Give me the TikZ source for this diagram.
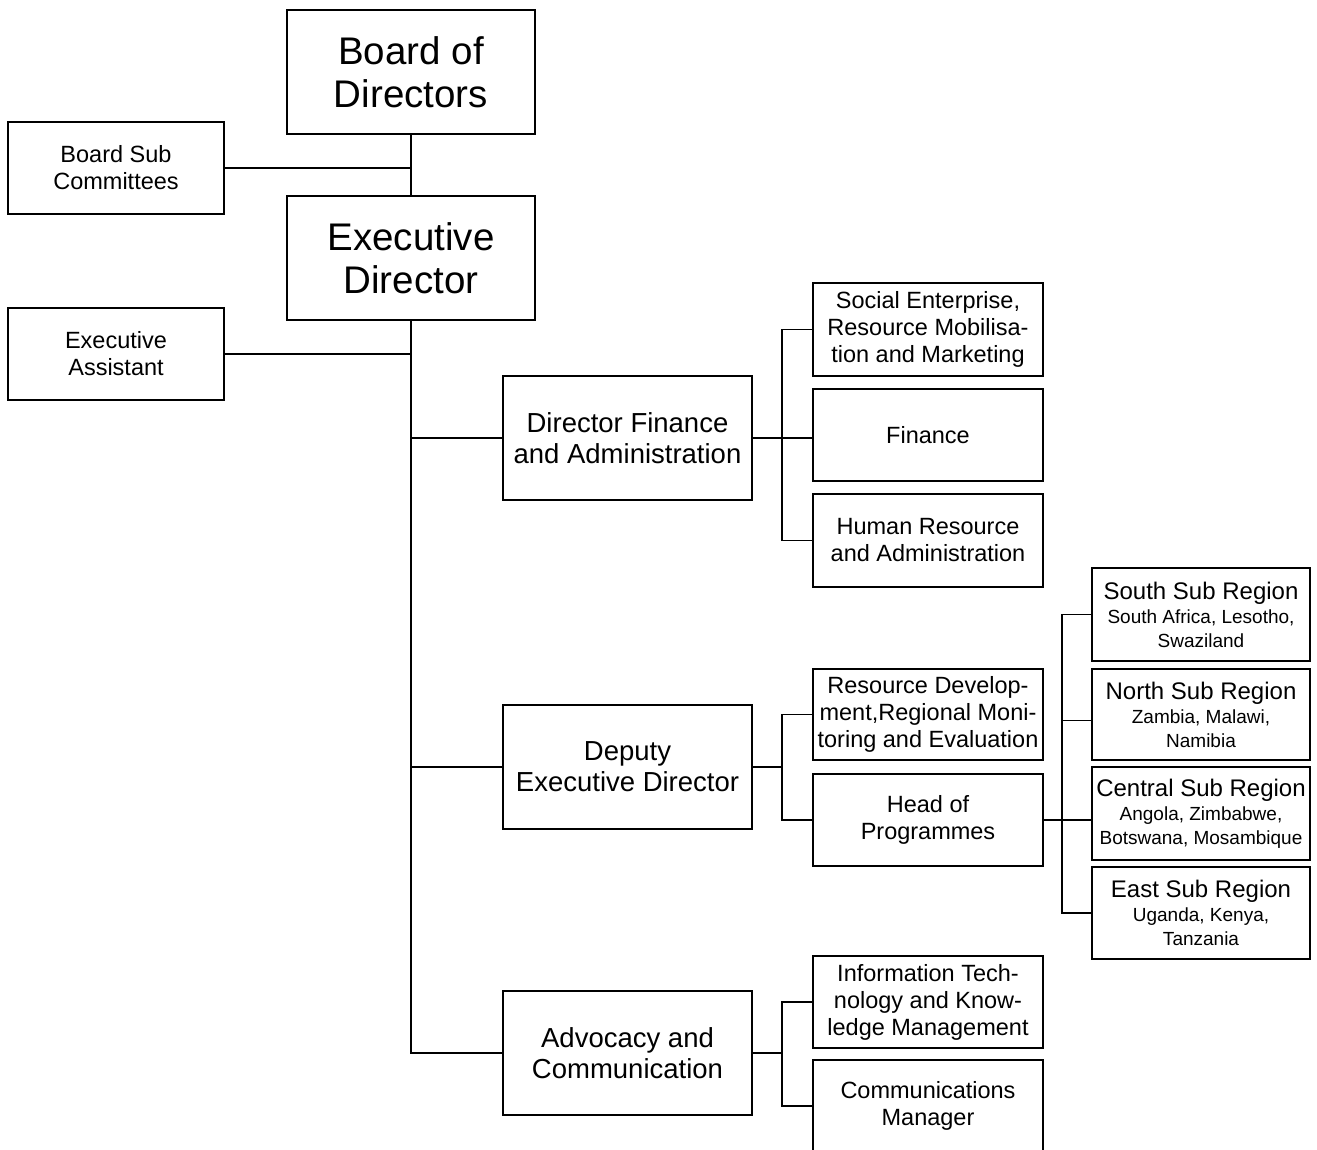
\documentclass[tikz,border=0pt]{standalone}
\usepackage{fontspec}
\setmainfont{Liberation Sans}
\newcommand\subf{\fontsize{19}{21}\selectfont}
\begin{document}
\begin{tikzpicture}[x=1pt,y=-1pt,line width=1.4pt,
  box/.style={draw,inner sep=0pt,align=center,line width=1.4pt},
  topbox/.style={box,minimum width=248pt,minimum height=124pt,font=\fontsize{38.5}{43}\selectfont},
  sidebox/.style={box,minimum width=216pt,minimum height=92pt,font=\fontsize{23.5}{27}\selectfont},
  midbox/.style={box,minimum width=249pt,minimum height=124pt,font=\fontsize{27.5}{31}\selectfont},
  leafbox/.style={box,minimum width=230pt,minimum height=92pt,font=\fontsize{23.5}{27}\selectfont},
  regbox/.style={box,minimum width=218pt,minimum height=92pt,font=\fontsize{24}{24}\selectfont}]
\useasboundingbox (0,0) rectangle (1317,1150);
\fill[white] (0,0) rectangle (1317,1150);
\clip (0,0) rectangle (1317,1150);

\node[topbox] (bod) at (411,72) {Board of\\Directors};
\node[sidebox] (bsc) at (116,168) {Board Sub\\Committees};
\node[topbox] (ed) at (411,258) {Executive\\Director};
\node[sidebox] (ea) at (116,354) {Executive\\Assistant};

\node[midbox] (dfa) at (627.5,438) {Director Finance\\and Administration};
\node[leafbox,minimum height=93pt] (se) at (928,329.5) {Social Enterprise,\\Resource Mobilisa-\\tion and Marketing};
\node[leafbox] (fin) at (928,435) {Finance};
\node[leafbox,minimum height=93pt] (hr) at (928,540.5) {Human Resource\\and Administration};

\node[midbox] (ded) at (627.5,767) {Deputy\\Executive Director};
\node[leafbox,minimum height=91pt] (rd) at (928,714.5) {Resource Develop-\\ment,Regional Moni-\\toring and Evaluation};
\node[leafbox] (hop) at (928,820) {Head of\\Programmes};

\node[regbox,minimum height=93pt] (south) at (1201,614.5) {South Sub Region\\\subf South Africa, Lesotho,\\\subf Swaziland};
\node[regbox,minimum height=91pt] (north) at (1201,714.5) {North Sub Region\\\subf Zambia, Malawi,\\\subf Namibia};
\node[regbox,minimum height=93pt] (central) at (1201,813.5) {Central Sub Region\\\subf Angola, Zimbabwe,\\\subf Botswana, Mosambique};
\node[regbox] (east) at (1201,913) {East Sub Region\\\subf Uganda, Kenya,\\\subf Tanzania};

\node[midbox] (ac) at (627.5,1053) {Advocacy and\\Communication};
\node[leafbox] (it) at (928,1002) {Information Tech-\\nology and Know-\\ledge Management};
\node[leafbox] (cm) at (928,1106) {Communications\\Manager};

% trunk
\draw (bod.south) -- (ed.north);
\draw (bsc.east) -- (bsc.east -| bod.south);
\draw (ea.east) -- (ea.east -| ed.south);
\draw (ed.south) |- (ac.west);
\draw (dfa.west) -- (dfa.west -| ed.south);
\draw (ded.west) -- (ded.west -| ed.south);

% finance bracket
\coordinate (fbus) at (782,438);
\draw (dfa.east) -- (dfa.east -| fin.west);
\draw (se.west) -| (fbus) |- (hr.west);

% deputy bracket
\coordinate (dbus) at (782,767);
\draw (ded.east) -- (dbus);
\draw (rd.west) -| (dbus) |- (hop.west);

% regions bracket
\coordinate (rbus) at (1062,820);
\draw (hop.east) -- (hop.east -| central.west);
\draw (south.west) -| (rbus) |- (east.west);
\draw ([yshift=-6pt]north.west) -- ([yshift=-6pt]north.west -| rbus);

% advocacy bracket
\coordinate (abus) at (782,1053);
\draw (ac.east) -- (abus);
\draw (it.west) -| (abus) |- (cm.west);
\end{tikzpicture}
\end{document}
